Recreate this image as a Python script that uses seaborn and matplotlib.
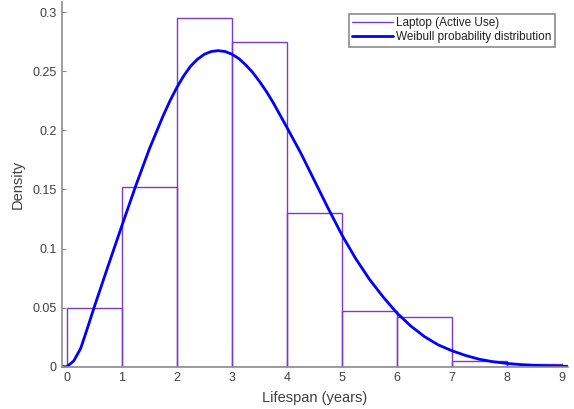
#!/usr/bin/env python3
"""
Laptop lifespan histogram with Weibull density curve
"""

import matplotlib
matplotlib.use('Agg')
import matplotlib.pyplot as plt
from matplotlib.lines import Line2D
import seaborn as sns

# Histogram (density per 1-year bin)
bin_edges = [0, 1, 2, 3, 4, 5, 6, 7, 8, 9]
bin_mids = [0.5, 1.5, 2.5, 3.5, 4.5, 5.5, 6.5, 7.5, 8.5]
densities = [0.050, 0.1525, 0.295, 0.275, 0.130, 0.0472, 0.0424, 0.0048, 0.0023]

# Weibull curve
curve_x = [-0.1, 0.0, 0.125, 0.25, 0.375, 0.5, 0.75, 1.0, 1.25, 1.5, 1.75,
           1.875, 2.0, 2.125, 2.25, 2.375, 2.5, 2.625, 2.75, 2.875, 3.0,
           3.125, 3.25, 3.375, 3.5, 3.625, 3.75, 4.0, 4.25, 4.5, 4.75, 5.0,
           5.25, 5.5, 5.75, 6.0, 6.25, 6.5, 6.75, 7.0, 7.25, 7.5, 7.75, 8.0,
           8.25, 8.5, 8.75, 9.0, 9.1]
curve_y = [0.0, 0.0, 0.005, 0.0155, 0.033, 0.051, 0.0855, 0.1195, 0.153,
           0.1845, 0.2125, 0.2252, 0.2365, 0.2463, 0.2545, 0.2603, 0.2645,
           0.2668, 0.2675, 0.2668, 0.2645, 0.2608, 0.2555, 0.2492, 0.2415,
           0.2331, 0.2235, 0.2025, 0.181, 0.1575, 0.134, 0.1115, 0.0915,
           0.074, 0.059, 0.0455, 0.0345, 0.0255, 0.0185, 0.0135, 0.0095,
           0.0063, 0.0042, 0.0028, 0.0018, 0.0011, 0.0007, 0.0004, 0.0003]

x_ticks = [0, 1, 2, 3, 4, 5, 6, 7, 8, 9]
y_ticks = [0, 0.05, 0.1, 0.15, 0.2, 0.25, 0.3]

hist_color = '#7a3cc8'
curve_color = '#0000ff'
axis_gray = '#8c8c8c'
text_gray = '#404040'

sns.set_style('white')
plt.rcParams['font.family'] = ['Liberation Sans', 'DejaVu Sans']

fig = plt.figure(figsize=(5.74, 4.09), dpi=100)
ax = fig.add_axes([0.108, 0.1034, 0.8815, 0.8926])

sns.histplot(x=bin_mids, weights=densities, bins=bin_edges, stat='count',
             fill=False, element='bars', color=hist_color, linewidth=1.0,
             ax=ax)
sns.lineplot(x=curve_x, y=curve_y, color=curve_color, linewidth=2.0,
             sort=False, solid_joinstyle='round', solid_capstyle='round',
             ax=ax)

ax.set_xlim(-0.09, 9.11)
ax.set_ylim(0, 0.309)
ax.set_xticks(x_ticks)
ax.set_xticklabels([str(t) for t in x_ticks])
ax.set_yticks(y_ticks)
ax.set_yticklabels([f'{t:g}' for t in y_ticks])

ax.set_xlabel('Lifespan (years)', fontsize=10.5, color=text_gray, labelpad=5)
ax.set_ylabel('Density', fontsize=10.5, color=text_gray, labelpad=5)

for side in ['top', 'right']:
    ax.spines[side].set_visible(False)
for side in ['left', 'bottom']:
    ax.spines[side].set_color(axis_gray)
    ax.spines[side].set_linewidth(1.2)

ax.tick_params(direction='in', length=3, width=0.8, color=axis_gray,
               labelsize=9, labelcolor=text_gray, pad=4)
ax.tick_params(axis='x', bottom=True)
ax.tick_params(axis='y', left=True)
ax.grid(False)

handles = [Line2D([0], [0], color=hist_color, linewidth=1.0),
           Line2D([0], [0], color=curve_color, linewidth=2.0)]
labels = ['Laptop (Active Use)', 'Weibull probability distribution']
leg = ax.legend(handles, labels, loc='upper right',
                bbox_to_anchor=(0.967, 0.966), bbox_transform=fig.transFigure,
                fontsize=8.5, frameon=True, fancybox=False, framealpha=1,
                handlelength=3.4, handletextpad=0.3, borderpad=0.3,
                labelspacing=0.15, borderaxespad=0)
leg.get_frame().set_edgecolor(axis_gray)
leg.get_frame().set_linewidth(1.2)
for t in leg.get_texts():
    t.set_color('#202020')

plt.savefig('out.png', dpi=100)
